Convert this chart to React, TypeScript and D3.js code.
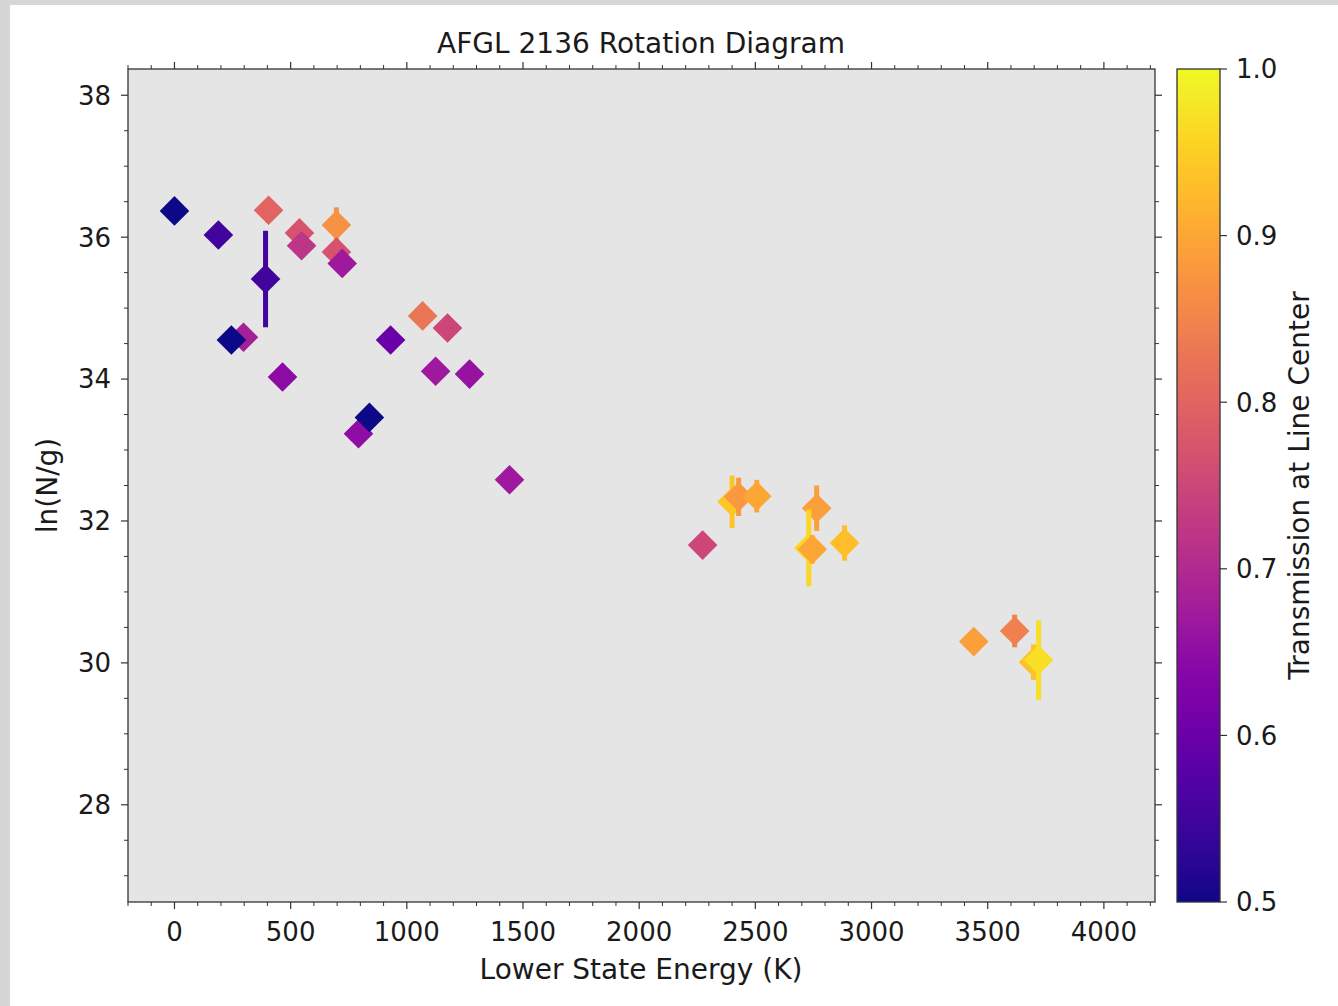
import React from "react";
import * as d3 from "d3";

const energies = [0, 189, 405, 538, 547, 697, 697, 722, 392, 297, 245, 465, 930, 792, 839, 1068, 1175, 1124, 1270, 1442, 2273, 2400, 2428, 2506, 2764, 2730, 2745, 2884, 3440, 3616, 3697, 3719];
const lnNg = [36.37, 36.03, 36.38, 36.06, 35.88, 36.17, 35.79, 35.63, 35.41, 34.59, 34.55, 34.03, 34.55, 33.23, 33.46, 34.89, 34.72, 34.11, 34.07, 32.58, 31.66, 32.27, 32.34, 32.35, 32.18, 31.62, 31.6, 31.69, 30.3, 30.45, 30.01, 30.04];
const errors = [0, 0, 0, 0, 0, 0.25, 0, 0, 0.68, 0, 0, 0, 0, 0, 0, 0, 0, 0, 0, 0, 0, 0.37, 0.27, 0.23, 0.32, 0.54, 0.2, 0.25, 0, 0.23, 0.25, 0.56];
const transmission = [0.5, 0.55, 0.8, 0.77, 0.72, 0.87, 0.77, 0.67, 0.55, 0.68, 0.5, 0.645, 0.6, 0.65, 0.5, 0.83, 0.75, 0.67, 0.66, 0.67, 0.75, 0.94, 0.88, 0.9, 0.89, 0.96, 0.9, 0.93, 0.89, 0.845, 0.935, 0.97];

const xTicks = [0, 500, 1000, 1500, 2000, 2500, 3000, 3500, 4000];
const yTicks = [28, 30, 32, 34, 36, 38];
const cTicks = [0.5, 0.6, 0.7, 0.8, 0.9, 1.0];

const W = 1338, H = 1006;
const L = 128, R = 1155, T = 69, B = 902;
const CB_L = 1177, CB_R = 1220;
const FONT = "DejaVu Sans";

export default function App() {
  const x = d3.scaleLinear().domain([-200, 4220]).range([L, R]);
  const y = d3.scaleLinear().domain([26.63, 38.37]).range([B, T]);
  const c = d3.scaleSequential(d3.interpolatePlasma).domain([0.5, 1.0]);
  const cy = d3.scaleLinear().domain([0.5, 1.0]).range([B, T]);

  const xMinor = d3.range(-200, 4201, 100).filter((v) => v % 500 !== 0);
  const yMinor = d3.range(27, 38.01, 0.5).filter((v) => Math.abs(v % 2) > 1e-6);

  const hd = 14.8;
  const diamond = (cx: number, cyy: number) =>
    `M${cx},${cyy - hd}L${cx + hd},${cyy}L${cx},${cyy + hd}L${cx - hd},${cyy}Z`;

  const stops = d3.range(0, 1.0001, 0.02);

  const axisColor = "#333";
  const textColor = "#1a1a1a";

  return (
    <svg width={W} height={H} style={{ position: "absolute", left: 0, top: 0 }} fontFamily={FONT}>
      <defs>
        <linearGradient id="cbgrad" x1="0" y1="1" x2="0" y2="0">
          {stops.map((s, i) => (
            <stop key={i} offset={s} stopColor={d3.interpolatePlasma(s)} />
          ))}
        </linearGradient>
        <clipPath id="plotclip">
          <rect x={L} y={T} width={R - L} height={B - T} />
        </clipPath>
      </defs>
      <rect x={0} y={0} width={W} height={H} fill="#d6d6d4" />
      <rect x={10} y={5} width={W - 10} height={H - 5} fill="#ffffff" />

      <rect x={L} y={T} width={R - L} height={B - T} fill="#e5e5e5" />

      <g clipPath="url(#plotclip)">
        {energies.map((e, i) => {
          const col = c(transmission[i]);
          const px = x(e);
          const py = y(lnNg[i]);
          return (
            <g key={i}>
              {errors[i] > 0 && (
                <line x1={px} x2={px} y1={y(lnNg[i] - errors[i])} y2={y(lnNg[i] + errors[i])} stroke={col} strokeWidth={5} />
              )}
              <path d={diamond(px, py)} fill={col} />
            </g>
          );
        })}
      </g>

      {/* frame */}
      <rect x={L} y={T} width={R - L} height={B - T} fill="none" stroke={axisColor} strokeWidth={1.3} />

      {/* x ticks */}
      {xTicks.map((t) => (
        <g key={"xt" + t}>
          <line x1={x(t)} x2={x(t)} y1={B} y2={B + 7} stroke={axisColor} strokeWidth={1.2} />
          <line x1={x(t)} x2={x(t)} y1={T} y2={T - 7} stroke={axisColor} strokeWidth={1.2} />
          <text x={x(t)} y={B + 39} textAnchor="middle" fontSize={26} fill={textColor}>{t}</text>
        </g>
      ))}
      {xMinor.map((t) => (
        <g key={"xm" + t}>
          <line x1={x(t)} x2={x(t)} y1={B} y2={B + 4} stroke={axisColor} strokeWidth={1} />
          <line x1={x(t)} x2={x(t)} y1={T} y2={T - 4} stroke={axisColor} strokeWidth={1} />
        </g>
      ))}
      {/* y ticks */}
      {yTicks.map((t) => (
        <g key={"yt" + t}>
          <line x1={L} x2={L - 7} y1={y(t)} y2={y(t)} stroke={axisColor} strokeWidth={1.2} />
          <line x1={R} x2={R + 7} y1={y(t)} y2={y(t)} stroke={axisColor} strokeWidth={1.2} />
          <text x={L - 17} y={y(t)} dy="0.36em" textAnchor="end" fontSize={26} fill={textColor}>{t}</text>
        </g>
      ))}
      {yMinor.map((t) => (
        <g key={"ym" + t}>
          <line x1={L} x2={L - 4} y1={y(t)} y2={y(t)} stroke={axisColor} strokeWidth={1} />
          <line x1={R} x2={R + 4} y1={y(t)} y2={y(t)} stroke={axisColor} strokeWidth={1} />
        </g>
      ))}

      <text x={641} y={53} textAnchor="middle" fontSize={28} fill={textColor}>AFGL 2136 Rotation Diagram</text>
      <text x={641} y={979} textAnchor="middle" fontSize={28} fill={textColor}>Lower State Energy (K)</text>
      <text transform={`translate(${57},${(T + B) / 2}) rotate(-90)`} textAnchor="middle" fontSize={28} fill={textColor}>ln(N/g)</text>

      {/* colorbar */}
      <rect x={CB_L} y={T} width={CB_R - CB_L} height={B - T} fill="url(#cbgrad)" stroke={axisColor} strokeWidth={1.3} />
      {cTicks.map((t) => (
        <g key={"ct" + t}>
          <line x1={CB_R} x2={CB_R + 7} y1={cy(t)} y2={cy(t)} stroke={axisColor} strokeWidth={1.2} />
          <text x={CB_R + 16} y={cy(t)} dy="0.36em" textAnchor="start" fontSize={26} fill={textColor}>{t.toFixed(1)}</text>
        </g>
      ))}
      <text transform={`translate(${1309},${(T + B) / 2}) rotate(-90)`} textAnchor="middle" fontSize={28} fill={textColor}>Transmission at Line Center</text>
    </svg>
  );
}
